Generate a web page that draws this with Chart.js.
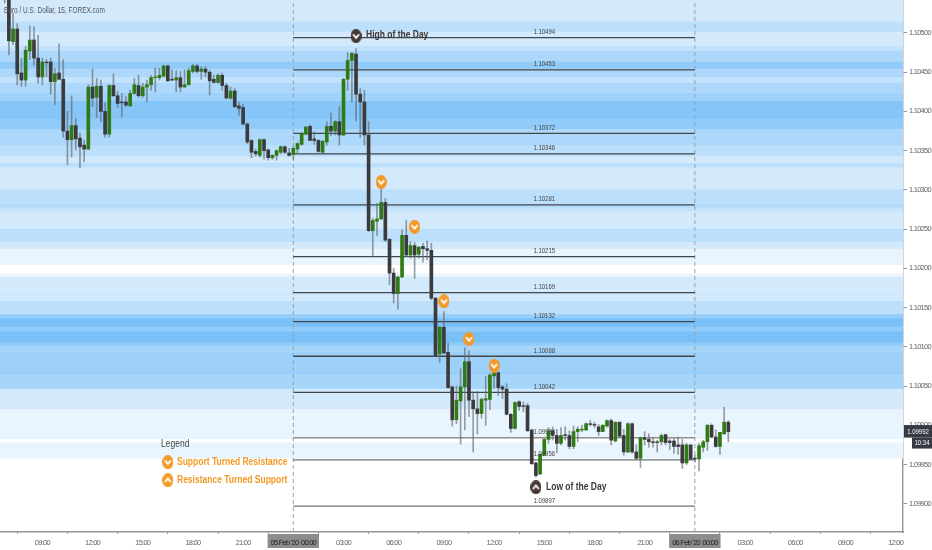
<!DOCTYPE html>
<html><head><meta charset="utf-8">
<style>html,body{margin:0;padding:0;background:#fff}canvas{display:block;filter:blur(.3px)}</style>
<script src="https://cdn.jsdelivr.net/npm/chart.js@4"></script>
</head><body><canvas id="c" width="932" height="550" style="width:932px;height:550px"></canvas>
<script>
const chartTitle = "Euro / U.S. Dollar, 15, FOREX.com";
const firstBar = -69;
const opens = [1.10568,1.10551,1.10489,1.10505,1.10449,1.10440,1.10477,1.10491,1.10468,1.10444,1.10463,1.10463,1.10438,1.10449,1.10441,1.10375,1.10364,1.10382,1.10366,1.10357,1.10352,1.10431,1.10418,1.10432,1.10400,1.10371,1.10433,1.10420,1.10412,1.10412,1.10407,1.10423,1.10433,1.10420,1.10431,1.10434,1.10443,1.10443,1.10445,1.10458,1.10441,1.10440,1.10443,1.10431,1.10434,1.10451,1.10458,1.10451,1.10454,1.10450,1.10441,1.10437,1.10446,1.10433,1.10417,1.10426,1.10407,1.10405,1.10384,1.10363,1.10349,1.10344,1.10364,1.10351,1.10341,1.10344,1.10348,1.10355,1.10347,
1.10345,1.10352,1.10358,1.10371,1.10381,1.10365,1.10363,1.10348,1.10361,1.10381,1.10375,1.10387,1.10370,1.10441,1.10465,1.10473,1.10422,1.10412,1.10370,1.10248,1.10260,1.10263,1.10284,1.10237,1.10194,1.10168,1.10189,1.10242,1.10217,1.10229,1.10218,1.10228,1.10225,1.10223,1.10162,1.10091,1.10125,1.10093,1.10049,1.10007,1.10031,1.10049,1.10081,1.10032,1.10021,1.10015,1.10032,1.10033,1.10063,1.10067,1.10049,1.10046,1.10014,1.09996,1.10030,1.10025,1.10025,1.09994,1.09952,1.09938,1.09962,1.09982,1.09993,1.09987,1.09977,1.09988,1.09987,1.09973,1.09992,1.09994,1.09994,1.10002,1.10001,1.09998,1.09992,1.09999,1.10006,1.09980,1.10004,1.09987,1.09966,1.10002,1.09966,1.09958,1.09984,1.09982,1.09979,1.09979,1.09979,1.09988,1.09980,1.09980,1.09975,1.09975,1.09952,1.09975,1.09958,1.09957,1.09972,1.09979,1.10000,1.09985,1.09973,1.09989,1.10004];
const closes = [1.10546,1.10490,1.10505,1.10448,1.10440,1.10478,1.10491,1.10468,1.10444,1.10463,1.10462,1.10438,1.10448,1.10441,1.10375,1.10364,1.10382,1.10365,1.10355,1.10352,1.10431,1.10417,1.10432,1.10400,1.10371,1.10433,1.10420,1.10410,1.10411,1.10408,1.10423,1.10434,1.10420,1.10431,1.10434,1.10443,1.10444,1.10446,1.10458,1.10439,1.10440,1.10443,1.10431,1.10434,1.10452,1.10458,1.10451,1.10454,1.10450,1.10439,1.10437,1.10446,1.10433,1.10417,1.10426,1.10406,1.10404,1.10384,1.10361,1.10348,1.10346,1.10364,1.10350,1.10341,1.10344,1.10350,1.10355,1.10348,1.10344,
1.10353,1.10359,1.10372,1.10380,1.10363,1.10363,1.10349,1.10362,1.10381,1.10375,1.10387,1.10370,1.10441,1.10465,1.10474,1.10422,1.10412,1.10370,1.10248,1.10261,1.10263,1.10284,1.10236,1.10194,1.10168,1.10189,1.10242,1.10217,1.10229,1.10217,1.10227,1.10225,1.10223,1.10162,1.10089,1.10125,1.10092,1.10048,1.10007,1.10032,1.10049,1.10081,1.10032,1.10021,1.10015,1.10033,1.10034,1.10064,1.10067,1.10048,1.10046,1.10014,1.09996,1.10029,1.10024,1.10024,1.09993,1.09951,1.09936,1.09963,1.09982,1.09993,1.09987,1.09977,1.09987,1.09987,1.09973,1.09992,1.09995,1.09995,1.10002,1.10001,1.10000,1.09992,1.10000,1.10006,1.09981,1.10004,1.09986,1.09966,1.10002,1.09966,1.09958,1.09984,1.09982,1.09979,1.09978,1.09978,1.09987,1.09978,1.09978,1.09973,1.09973,1.09952,1.09975,1.09957,1.09957,1.09974,1.09979,1.10000,1.09985,1.09973,1.09991,1.10004,1.09992];
const highs = [1.10576,1.10555,1.10525,1.10512,1.10468,1.10483,1.10509,1.10508,1.10497,1.10468,1.10466,1.10468,1.10455,1.10486,1.10466,1.10400,1.10420,1.10391,1.10372,1.10363,1.10434,1.10454,1.10442,1.10440,1.10411,1.10434,1.10448,1.10426,1.10423,1.10419,1.10427,1.10442,1.10446,1.10436,1.10440,1.10446,1.10455,1.10455,1.10459,1.10459,1.10453,1.10452,1.10451,1.10453,1.10455,1.10460,1.10460,1.10457,1.10457,1.10452,1.10446,1.10448,1.10449,1.10436,1.10431,1.10429,1.10412,1.10409,1.10385,1.10364,1.10352,1.10365,1.10365,1.10352,1.10345,1.10351,1.10356,1.10356,1.10353,
1.10355,1.10360,1.10373,1.10381,1.10383,1.10374,1.10364,1.10363,1.10387,1.10398,1.10388,1.10406,1.10442,1.10475,1.10475,1.10480,1.10429,1.10427,1.10387,1.10264,1.10283,1.10302,1.10289,1.10238,1.10200,1.10190,1.10249,1.10261,1.10234,1.10233,1.10228,1.10232,1.10235,1.10232,1.10163,1.10126,1.10145,1.10105,1.10050,1.10050,1.10072,1.10099,1.10095,1.10043,1.10043,1.10035,1.10062,1.10066,1.10068,1.10068,1.10051,1.10053,1.10015,1.10030,1.10031,1.10030,1.10028,1.09995,1.09953,1.09964,1.09983,1.09997,1.09998,1.09995,1.09997,1.09998,1.09993,1.09999,1.09998,1.10000,1.10003,1.10006,1.10004,1.10001,1.10001,1.10007,1.10008,1.10004,1.10004,1.09995,1.10003,1.10003,1.09975,1.09985,1.09992,1.09989,1.09984,1.09981,1.09989,1.09989,1.09982,1.09983,1.09985,1.09982,1.09977,1.09975,1.09962,1.09977,1.09981,1.10001,1.10002,1.09994,1.09991,1.10023,1.10006];
const lows = [1.10538,1.10472,1.10485,1.10434,1.10432,1.10432,1.10466,1.10459,1.10436,1.10434,1.10444,1.10422,1.10409,1.10440,1.10367,1.10332,1.10342,1.10351,1.10328,1.10336,1.10351,1.10406,1.10392,1.10387,1.10367,1.10367,1.10419,1.10405,1.10393,1.10406,1.10407,1.10422,1.10418,1.10418,1.10412,1.10427,1.10425,1.10440,1.10444,1.10438,1.10439,1.10425,1.10425,1.10431,1.10434,1.10449,1.10449,1.10441,1.10444,1.10421,1.10436,1.10436,1.10427,1.10416,1.10415,1.10405,1.10395,1.10383,1.10359,1.10341,1.10343,1.10342,1.10339,1.10338,1.10339,1.10338,1.10346,1.10346,1.10343,
1.10339,1.10347,1.10357,1.10370,1.10363,1.10358,1.10348,1.10347,1.10357,1.10369,1.10370,1.10357,1.10369,1.10427,1.10412,1.10388,1.10367,1.10357,1.10247,1.10216,1.10242,1.10262,1.10234,1.10179,1.10156,1.10148,1.10188,1.10215,1.10213,1.10187,1.10213,1.10208,1.10211,1.10160,1.10089,1.10080,1.10092,1.10047,1.09999,1.10002,1.09976,1.09994,1.10011,1.09966,1.09989,1.10009,1.10000,1.10020,1.10047,1.10038,1.10034,1.10013,1.09991,1.09995,1.10019,1.10017,1.09992,1.09950,1.09934,1.09937,1.09961,1.09977,1.09981,1.09965,1.09975,1.09981,1.09970,1.09970,1.09979,1.09992,1.09993,1.09999,1.09997,1.09987,1.09992,1.09998,1.09975,1.09979,1.09985,1.09962,1.09965,1.09964,1.09956,1.09946,1.09975,1.09972,1.09972,1.09966,1.09975,1.09975,1.09969,1.09964,1.09963,1.09945,1.09950,1.09956,1.09953,1.09942,1.09966,1.09968,1.09984,1.09972,1.09963,1.09989,1.09979];

const levelPrices = [1.10494,1.10453,1.10372,1.10346,1.10281,1.10215,1.10169,1.10132,1.10088,1.10042,1.09984,1.09956,1.09897];
const levelStart = 0, levelEnd = 96;

const bandEdges = [1.10542,1.10514,1.10501,1.10483,1.10477,1.10463,1.10454,1.10443,1.10436,1.10423,1.10413,1.10390,1.10377,1.10356,1.10342,1.10334,1.10328,1.10300,1.10281,1.10277,1.10272,1.10250,1.10233,1.10224,1.10204,1.10193,1.10189,1.10168,1.10166,1.10158,1.10141,1.10136,1.10125,1.10119,1.10105,1.10101,1.10094,1.10068,1.10065,1.10046,1.10020,1.09982,1.09978,1.09958];
const bandStrength = [.2,.3,.2,.27,.37,.5,.37,.27,.37,.43,.55,.5,.37,.3,.2,.3,.2,.3,.35,.27,.2,.3,.2,.1,0,.1,.2,.25,.2,.3,.47,.6,.5,.6,.5,.4,.44,.47,.4,.2,.1,0,.1];

const priceTicks = [1.099,1.0995,1.1,1.1005,1.101,1.1015,1.102,1.1025,1.103,1.1035,1.104,1.1045,1.105];
const timeTickBars = [-60,-48,-36,-24,-12,0,12,24,36,48,60,72,84,96,108,120,132,144];
const timeTickLabels = ["09:00","12:00","15:00","18:00","21:00","05 Feb '20  00:00","03:00","06:00","09:00","12:00","15:00","18:00","21:00","06 Feb '20  00:00","03:00","06:00","09:00","12:00"];

const flagBars = [21,29,36,42,48];
const flagPrices = [1.10310,1.10253,1.10158,1.10110,1.10076];
const extremeBars = [15,58];
const extremePrices = [1.10496,1.09921];
const keyBars = [-30,-30];
const keyPrices = [1.09953,1.09930];

const lastPrice = "1.09992", countdown = "10:34";
const yMin = 1.09864, yMax = 1.10542, xMin = -70.12, xMax = 145.76;

[closes,highs,lows].forEach(a=>{ if(a.length!==opens.length) throw new Error("len "+a.length+" vs "+opens.length); });

const SANS = '"Liberation Sans",Arial,sans-serif';
const BLUE = a => `rgb(${Math.round(255-222*a)},${Math.round(255-105*a)},${Math.round(255-12*a)})`;

function badge(fill, up){
  const w=11,h=14,S=2;
  const c=document.createElement('canvas'); c.width=w*S; c.height=h*S;
  const g=c.getContext('2d'); g.scale(S,S);
  g.fillStyle=fill; g.beginPath(); g.ellipse(w/2,h/2,w/2,h/2,0,0,Math.PI*2); g.fill();
  g.strokeStyle='#fff'; g.lineWidth=1.8; g.beginPath();
  const m=h/2, d=up?-1:1;
  g.moveTo(w/2-3,m-1.8*d); g.lineTo(w/2,m+1.8*d); g.lineTo(w/2+3,m-1.8*d); g.stroke();
  const o=document.createElement('canvas'); o.width=w; o.height=h;
  o.getContext('2d').drawImage(c,0,0,w,h);
  return o;
}
const ORANGE='#f29a27', DARK='#453735';
const badgeOD=badge(ORANGE,false), badgeOU=badge(ORANGE,true), badgeDD=badge(DARK,false), badgeDU=badge(DARK,true);

const barIndex = opens.map((_,i)=>firstBar+i);
const datasets = [];
datasets.push({type:'bar',order:9,grouped:false,barThickness:3000,borderWidth:0,
  data:bandStrength.map((_,i)=>({x:40,y:[bandEdges[i+1],bandEdges[i]]})),
  backgroundColor:bandStrength.map(BLUE)});
levelPrices.forEach((p,i)=>{
  const thin = i===10;
  datasets.push({type:'line',order:5,data:[{x:levelStart,y:p},{x:levelEnd,y:p}],
    borderColor: thin?'#6e5f60':(i===11||i===12?'#6f7478':'#41474b'),borderWidth:thin?1:1.3,pointRadius:0,tension:0});
});
[levelStart,levelEnd].forEach(b=>datasets.push({type:'line',order:6,data:[{x:b,y:yMin},{x:b,y:yMax}],
  borderColor:'#9aa0a4',borderWidth:1,borderDash:[4,3],pointRadius:0}));
datasets.push({type:'bar',order:3,grouped:false,barThickness:1,borderWidth:0,
  data:barIndex.map((x,i)=>({x,y:[lows[i],highs[i]]})),
  backgroundColor:'rgba(95,100,105,.62)'});
datasets.push({type:'bar',order:2,grouped:false,barThickness:3,borderWidth:0,
  data:barIndex.map((x,i)=>({x,y:[Math.min(opens[i],closes[i]),Math.max(opens[i],closes[i])]})),
  backgroundColor:barIndex.map((x,i)=>closes[i]>=opens[i]?'#2f7a12':'#3b3a3d')});
datasets.push({type:'line',order:1,showLine:false,
  data:flagBars.map((x,i)=>({x,y:flagPrices[i]})),pointStyle:badgeOD,pointRadius:6});
datasets.push({type:'line',order:1,showLine:false,
  data:extremeBars.map((x,i)=>({x,y:extremePrices[i]})),pointStyle:[badgeDD,badgeDU],pointRadius:6});
datasets.push({type:'line',order:1,showLine:false,
  data:keyBars.map((x,i)=>({x,y:keyPrices[i]})),pointStyle:[badgeOD,badgeOU],pointRadius:6});

function squeezed(g,str,x,y,sx){
  g.save(); g.translate(x,y); g.scale(sx,1); g.fillText(str,0,0); g.restore();
}
const TIGHT='-0.75px';
const textPlugin = {
  id:'texts',
  beforeLayout(ch){ ch.ctx.letterSpacing=TIGHT; },
  beforeDraw(ch){ ch.ctx.letterSpacing=TIGHT; },
  afterDatasetsDraw(ch){
    const g=ch.ctx, X=ch.scales.x, Y=ch.scales.y;
    g.save();
    g.letterSpacing='0px';
    g.textBaseline='middle';
    g.font=`7.5px ${SANS}`; g.fillStyle='#444'; g.textAlign='center';
    levelPrices.forEach(p=>squeezed(g,p.toFixed(5),X.getPixelForValue(60),Y.getPixelForValue(p)-5.5,.8));
    g.textAlign='left';
    g.font=`9px ${SANS}`; g.fillStyle='#555';
    squeezed(g,chartTitle,4,11,.72);
    g.font=`bold 10px ${SANS}`; g.fillStyle='#3f3735';
    squeezed(g,'High of the Day',366,35.5,.85);
    squeezed(g,'Low of the Day',546,487,.85);
    g.font=`10px ${SANS}`; g.fillStyle='#444';
    squeezed(g,'Legend',161,444.5,.85);
    g.font=`bold 10px ${SANS}`; g.fillStyle=ORANGE;
    squeezed(g,'Support Turned Resistance',177,462,.85);
    squeezed(g,'Resistance Turned Support',177,480,.85);
    g.restore();
  },
  afterDraw(ch){
    const g=ch.ctx, Y=ch.scales.y, py=Y.getPixelForValue(parseFloat(lastPrice));
    g.save();
    g.letterSpacing='0px';
    g.fillStyle='#363a42';
    g.fillRect(904,py-6.5,28,12.5);
    g.fillRect(912,py+6,20,11);
    g.fillStyle='#fff'; g.textBaseline='middle'; g.textAlign='center';
    g.font=`7.5px ${SANS}`;
    squeezed(g,lastPrice,918,py,.8);
    squeezed(g,countdown,922,py+11.5,.8);
    g.restore();
  }
};

const tickFix = (scale,size,isY)=>{
  if(isY) scale.width=size; else scale.height=size;
  scale.paddingTop=scale.paddingBottom=scale.paddingLeft=scale.paddingRight=0;
};
const isDate = ctx => ctx.tick && (ctx.tick.value===0||ctx.tick.value===96);

new Chart(document.getElementById('c'),{
  data:{datasets},
  plugins:[textPlugin],
  options:{
    responsive:false,animation:false,devicePixelRatio:1,
    layout:{padding:0,autoPadding:false},
    plugins:{legend:{display:false},tooltip:{enabled:false}},
    events:[],
    scales:{
      x:{type:'linear',min:xMin,max:xMax,offset:false,
        border:{color:'#8f9599',width:1.4},
        grid:{drawOnChartArea:false,drawTicks:true,tickLength:2,color:'#8f9599'},
        afterBuildTicks:s=>{s.ticks=timeTickBars.map(value=>({value}));},
        afterFit:s=>tickFix(s,18,false),
        ticks:{autoSkip:false,maxRotation:0,minRotation:0,padding:4,
          callback:(v,i)=>timeTickLabels[i],
          font:{family:SANS,size:7.5},
          color:ctx=>isDate(ctx)?'#222':'#666',
          showLabelBackdrop:ctx=>isDate(ctx),
          backdropColor:'#8c8c8c',backdropPadding:{left:3,right:3,top:4,bottom:1}}
      },
      y:{type:'linear',position:'right',min:yMin,max:yMax,
        border:{color:'#8f9599',width:1.4},
        grid:{drawOnChartArea:false,drawTicks:true,tickLength:4,color:'#8f9599'},
        afterBuildTicks:s=>{s.ticks=priceTicks.map(value=>({value}));},
        afterFit:s=>tickFix(s,29,true),
        ticks:{padding:2,callback:v=>v.toFixed(5),font:{family:SANS,size:7.5},color:'#666'}
      }
    }
  }
});
</script></body></html>
